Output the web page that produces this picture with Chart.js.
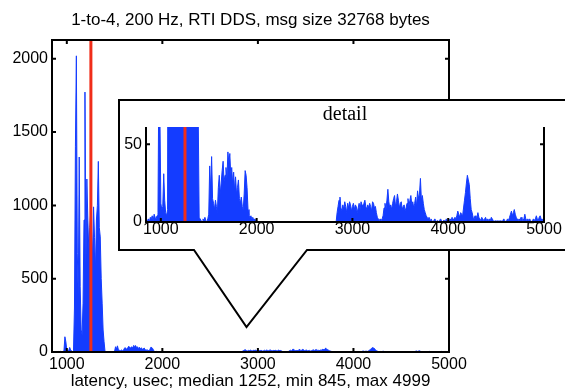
<!DOCTYPE html>
<html>
<head>
<meta charset="utf-8">
<script src="https://cdn.jsdelivr.net/npm/chart.js@4"></script>
<style>
  html, body { margin: 0; padding: 0; background: #fff; }
  #wrap { position: relative; width: 565px; height: 392px; overflow: hidden; }
  #mainChart { position: absolute; left: 0; top: 0; }
  #detailChart { position: absolute; left: 121px; top: 102px; }
</style>
</head>
<body>
<div id="wrap">
  <canvas id="mainChart" width="565" height="392"></canvas>
  <canvas id="detailChart" width="444" height="147"></canvas>
</div>
<script>
// histogram of latencies, 10 usec bins starting at 845
const binStart = 845;
const binWidth = 10;
const counts = [
  0, 1, 2, 0, 3, 2, 4, 1, 5, 3,            // 850..940
  2, 4, 6, 104, 70, 12, 8, 10, 31, 14,      // 950..1040
  6, 4, 8, 300, 1400, 2020, 670, 380, 1330, 445,   // 1050..1140
  150, 120, 333, 900, 1773, 600, 1180, 900, 700, 850, // 1150..1240
  950, 800, 650, 990, 780, 560, 900, 1000, 1300, 850, // 1250..1340
  785, 500, 333, 150, 70, 3, 2, 1, 0, 2,    // 1350..1440
  1, 3, 1, 0, 2, 5, 36, 20, 42, 15,         // 1450..1540
  12, 8, 14, 10, 6, 22, 30, 18, 25, 33,     // 1550..1640
  39, 26, 30, 35, 28, 45, 38, 44, 30, 35,   // 1650..1740
  24, 32, 20, 29, 18, 22, 27, 15, 12, 16,   // 1750..1840
  10, 8, 18, 33, 30, 22, 8, 4, 3, 4,        // 1850..1940
  2, 3, 1, 2, 1, 1, 0, 0, 0, 0,             // 1950..2040
  0, 0, 0, 0, 0, 0, 0, 0, 0, 0,             // 2050..2140
  0, 0, 0, 0, 0, 0, 0, 0, 0, 0,             // 2150..2240
  0, 0, 0, 0, 0, 0, 0, 0, 0, 0,             // 2250..2340
  0, 0, 0, 0, 0, 0, 0, 0, 0, 0,             // 2350..2440
  0, 0, 0, 0, 0, 0, 0, 0, 0, 0,             // 2450..2540
  0, 0, 0, 0, 0, 0, 0, 0, 0, 0,             // 2550..2640
  0, 0, 0, 0, 0, 0, 0, 0, 0, 0,             // 2650..2740
  0, 0, 0, 0, 0, 0, 0, 0, 0, 6,             // 2750..2840
  10, 14, 16, 9, 7, 11, 8, 13, 10, 6,       // 2850..2940
  12, 9, 13, 11, 7, 10, 12, 8, 11, 10,      // 2950..3040
  6, 9, 12, 8, 13, 11, 9, 12, 14, 10,       // 3050..3140
  8, 11, 9, 12, 10, 7, 13, 12, 9, 10,       // 3150..3240
  6, 3, 2, 1, 2, 1, 2, 4, 9, 12,            // 3250..3340
  8, 14, 21, 13, 9, 11, 8, 12, 15, 17,      // 3350..3440
  10, 13, 18, 14, 9, 12, 13, 8, 10, 11,     // 3450..3540
  7, 9, 12, 15, 10, 14, 17, 11, 13, 9,      // 3550..3640
  12, 16, 10, 20, 15, 18, 28, 14, 17, 12,   // 3650..3740
  8, 6, 4, 3, 2, 3, 1, 2, 1, 0,             // 3750..3840
  1, 2, 1, 0, 1, 0, 1, 2, 1, 0,             // 3850..3940
  1, 1, 0, 2, 1, 0, 1, 2, 1, 3,             // 3950..4040
  2, 1, 3, 2, 4, 7, 5, 3, 6, 5,             // 4050..4140
  4, 9, 14, 19, 25, 30, 27, 24, 15, 8,      // 4150..4240
  6, 3, 2, 4, 2, 3, 6, 3, 2, 1,             // 4250..4340
  3, 2, 1, 2, 3, 1, 2, 1, 2, 1,             // 4350..4440
  3, 2, 1, 0, 1, 0, 1, 0, 1, 0,             // 4450..4540
  1, 0, 1, 2, 1, 0, 1, 2, 1, 3,             // 4550..4640
  5, 7, 4, 6, 8, 5, 3, 2, 1, 2,             // 4650..4740
  1, 3, 2, 1, 2, 5, 2, 1, 2, 1,             // 4750..4840
  2, 1, 0, 1, 2, 1, 2, 4, 2, 1,             // 4850..4940
  3, 4, 2, 1, 2, 1                          // 4950..5000
];

const median = 1252;
const minLatency = 845;
const maxLatency = 4999;

const xMin = 845;
const xMax = 5000;
const mainYMax = 2128;
const detailYMax = 61;

const xTicks = [1000, 2000, 3000, 4000, 5000];
const mainYTicks = [0, 500, 1000, 1500, 2000];
const detailYTicks = [0, 50];

const titleText = "1-to-4, 200 Hz, RTI DDS, msg size 32768 bytes";
const xTitle = `latency, usec; median ${median}, min ${minLatency}, max ${maxLatency}`;

const blue = "rgb(20, 60, 255)";
const red = "rgb(240, 45, 25)";
const sans = "'Liberation Sans', Arial, sans-serif";
const serif = "'Liberation Serif', 'Times New Roman', serif";

const bins = counts.map((c, i) => ({ x: binStart + binWidth * (i + 0.5), y: c }));

// matlab style axes: thick lines and ticks pointing inward
const frame = {
  id: "frame",
  afterDatasetsDraw(chart, args, opts) {
    const { ctx, chartArea: a, scales } = chart;
    const sx = scales.x;
    const sy = scales.y;
    ctx.save();
    ctx.strokeStyle = "#000";
    ctx.lineWidth = 2;
    ctx.beginPath();
    if (opts.box) {
      ctx.rect(a.left, a.top, a.right - a.left, a.bottom - a.top);
    } else {
      ctx.moveTo(a.left, a.top);
      ctx.lineTo(a.left, a.bottom);
      ctx.lineTo(a.right, a.bottom);
      ctx.lineTo(a.right, a.top);
    }
    ctx.stroke();

    const len = 4;
    ctx.beginPath();
    sx.ticks.forEach((t) => {
      const px = sx.getPixelForValue(t.value);
      ctx.moveTo(px, a.bottom);
      ctx.lineTo(px, a.bottom - len);
      if (opts.box) {
        ctx.moveTo(px, a.top);
        ctx.lineTo(px, a.top + len);
      }
    });
    sy.ticks.forEach((t) => {
      const py = sy.getPixelForValue(t.value);
      ctx.moveTo(a.left, py);
      ctx.lineTo(a.left + len, py);
      ctx.moveTo(a.right, py);
      ctx.lineTo(a.right - len, py);
    });
    ctx.stroke();
    ctx.restore();
  },
};

// white inset box with the V shaped pointer
const insetBox = {
  id: "insetBox",
  afterDraw(chart) {
    const ctx = chart.ctx;
    const left = 119, top = 100, bottom = 250, right = 570;
    ctx.save();
    ctx.fillStyle = "#fff";
    ctx.fillRect(left, top, right - left, bottom - top);
    ctx.strokeStyle = "#000";
    ctx.lineWidth = 2;
    ctx.lineJoin = "miter";
    ctx.beginPath();
    ctx.moveTo(right, top);
    ctx.lineTo(left, top);
    ctx.lineTo(left, bottom);
    ctx.lineTo(194, bottom);
    ctx.lineTo(246.5, 327);
    ctx.lineTo(307, bottom);
    ctx.lineTo(right, bottom);
    ctx.stroke();
    ctx.restore();
  },
};

const histSet = () => ({
  data: bins,
  backgroundColor: blue,
  borderColor: blue,
  borderWidth: 1,
  fill: "origin",
  pointRadius: 0,
  tension: 0,
  order: 2,
});

const medianSet = (top) => ({
  data: [{ x: median, y: 0 }, { x: median, y: top }],
  borderColor: red,
  borderWidth: 3,
  fill: false,
  pointRadius: 0,
  order: 1,
});

const xScale = (pad, height, title) => ({
  type: "linear",
  min: xMin,
  max: xMax,
  grid: { display: false, drawTicks: false },
  border: { display: false },
  afterBuildTicks: (s) => { s.ticks = xTicks.map((v) => ({ value: v })); },
  afterFit: (s) => { s.height = height; },
  ticks: {
    autoSkip: false,
    maxRotation: 0,
    padding: pad,
    color: "#000",
    font: { family: sans, size: 16, lineHeight: 1 },
    callback: (v) => String(v),
  },
  title: title,
});

const yScale = (max, tickVals, width) => ({
  type: "linear",
  min: 0,
  max: max,
  grid: { display: false, drawTicks: false },
  border: { display: false },
  afterBuildTicks: (s) => { s.ticks = tickVals.map((v) => ({ value: v })); },
  afterFit: (s) => { s.width = width; },
  ticks: {
    padding: 4,
    color: "#000",
    font: { family: sans, size: 16, lineHeight: 1 },
    callback: (v) => String(v),
  },
});

new Chart(document.getElementById("mainChart"), {
  type: "line",
  data: { datasets: [histSet(), medianSet(mainYMax)] },
  options: {
    responsive: false,
    animation: false,
    events: [],
    layout: { padding: { left: 0, top: 0, right: 116, bottom: 0 } },
    scales: {
      x: xScale(4.5, 40, {
        display: true,
        text: xTitle,
        color: "#000",
        font: { family: sans, size: 17 },
        padding: { top: 0, bottom: 0 },
      }),
      y: yScale(mainYMax, mainYTicks, 52),
    },
    plugins: {
      legend: { display: false },
      tooltip: { enabled: false },
      title: {
        display: true,
        text: titleText,
        fullSize: false,
        color: "#000",
        font: { family: sans, size: 17, weight: "normal" },
        padding: { top: 9.8, bottom: 9.8 },
      },
      frame: { box: true },
    },
  },
  plugins: [frame, insetBox],
});

new Chart(document.getElementById("detailChart"), {
  type: "line",
  data: { datasets: [histSet(), medianSet(detailYMax)] },
  options: {
    responsive: false,
    animation: false,
    events: [],
    layout: { padding: { left: 0, top: 0, right: 21, bottom: 0 } },
    scales: {
      x: xScale(0, 27, { display: false }),
      y: yScale(detailYMax, detailYTicks, 25),
    },
    plugins: {
      legend: { display: false },
      tooltip: { enabled: false },
      title: {
        display: true,
        text: "detail",
        fullSize: false,
        color: "#000",
        font: { family: serif, size: 20, weight: "normal" },
        padding: { top: 1, bottom: 0 },
      },
      frame: { box: false },
    },
  },
  plugins: [frame],
});
</script>
</body>
</html>
